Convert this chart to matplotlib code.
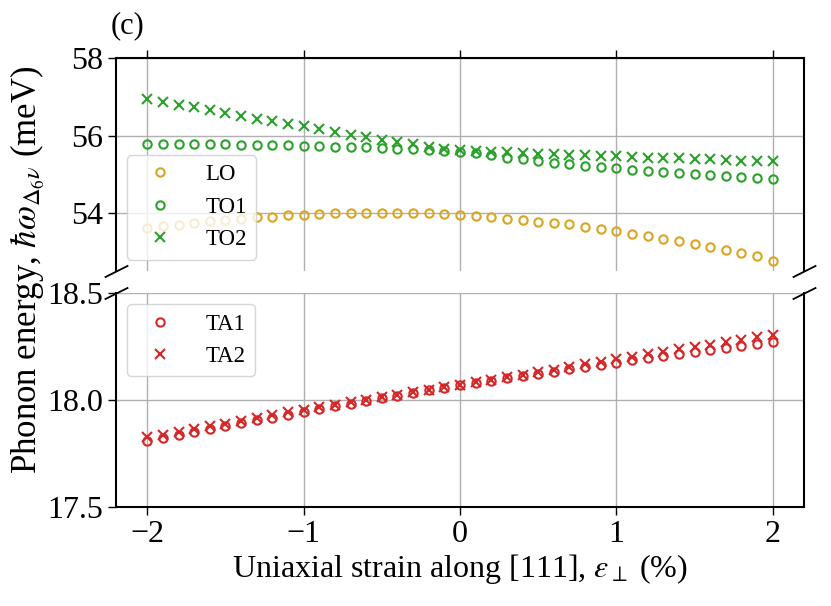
import numpy as np
import matplotlib
matplotlib.use('Agg')
import matplotlib.pyplot as plt

plt.rcParams['font.family'] = ['Liberation Serif', 'DejaVu Serif']
plt.rcParams['mathtext.fontset'] = 'stix'

# Uniaxial strain [%]
strain = [-2.0, -1.9, -1.8, -1.7, -1.6, -1.5, -1.4, -1.3, -1.2, -1.1, -1.0,
          -0.9, -0.8, -0.7, -0.6, -0.5, -0.4, -0.3, -0.2, -0.1, 0.0,
          0.1, 0.2, 0.3, 0.4, 0.5, 0.6, 0.7, 0.8, 0.9, 1.0,
          1.1, 1.2, 1.3, 1.4, 1.5, 1.6, 1.7, 1.8, 1.9, 2.0]

# Optical branches [meV]
LO = [53.62, 53.67, 53.71, 53.76, 53.80, 53.84, 53.86, 53.90, 53.92, 53.95, 53.97,
      53.98, 54.00, 54.01, 54.01, 54.01, 54.01, 54.01, 54.00, 53.98, 53.96,
      53.94, 53.91, 53.87, 53.84, 53.79, 53.76, 53.72, 53.66, 53.61, 53.54,
      53.48, 53.41, 53.35, 53.29, 53.22, 53.14, 53.05, 52.98, 52.90, 52.79]
TO1 = [55.80, 55.80, 55.79, 55.79, 55.78, 55.78, 55.77, 55.76, 55.76, 55.75, 55.74,
       55.73, 55.72, 55.71, 55.70, 55.68, 55.67, 55.65, 55.63, 55.61, 55.59,
       55.56, 55.50, 55.44, 55.39, 55.34, 55.31, 55.26, 55.23, 55.20, 55.16,
       55.13, 55.09, 55.07, 55.04, 55.01, 54.99, 54.97, 54.94, 54.92, 54.88]
TO2 = [56.94, 56.87, 56.80, 56.73, 56.66, 56.58, 56.51, 56.44, 56.37, 56.31, 56.25,
       56.18, 56.10, 56.03, 55.96, 55.89, 55.83, 55.78, 55.72, 55.67, 55.63,
       55.60, 55.58, 55.57, 55.55, 55.54, 55.53, 55.51, 55.50, 55.49, 55.47,
       55.46, 55.44, 55.43, 55.42, 55.40, 55.39, 55.38, 55.36, 55.35, 55.34]

# Acoustic branches [meV]
TA1 = [17.810, 17.824, 17.838, 17.851, 17.865, 17.878, 17.892, 17.905, 17.918, 17.932, 17.945,
       17.958, 17.970, 17.983, 17.995, 18.008, 18.020, 18.033, 18.045, 18.058, 18.070,
       18.081, 18.091, 18.102, 18.112, 18.123, 18.133, 18.144, 18.154, 18.165, 18.175,
       18.185, 18.194, 18.204, 18.213, 18.223, 18.232, 18.242, 18.251, 18.261, 18.270]
TA2 = [17.825, 17.838, 17.851, 17.864, 17.877, 17.890, 17.903, 17.916, 17.929, 17.942, 17.955,
       17.967, 17.978, 17.990, 18.001, 18.013, 18.024, 18.036, 18.047, 18.059, 18.070,
       18.082, 18.094, 18.106, 18.118, 18.130, 18.142, 18.154, 18.166, 18.178, 18.190,
       18.202, 18.213, 18.225, 18.236, 18.248, 18.259, 18.271, 18.282, 18.294, 18.305]

c_lo = '#daa520'
c_to = '#2ca02c'
c_ta = '#d62728'

fig = plt.figure(figsize=(8.31, 6.06), dpi=100)
ax1 = fig.add_axes([0.1396, 0.5528, 0.8279, 0.3515])
ax2 = fig.add_axes([0.1396, 0.1634, 0.8279, 0.3531], sharex=ax1)

mk = dict(linestyle='none', markersize=6, markeredgewidth=1.5)
mx = dict(linestyle='none', markersize=6.5, markeredgewidth=1.5)
ax1.plot(strain, LO, 'o', color=c_lo, mfc='none', label='LO', **mk)
ax1.plot(strain, TO1, 'o', color=c_to, mfc='none', label='TO1', **mk)
ax1.plot(strain, TO2, 'x', color=c_to, label='TO2', **mx)

ax2.plot(strain, TA1, 'o', color=c_ta, mfc='none', label='TA1', **mk)
ax2.plot(strain, TA2, 'x', color=c_ta, label='TA2', **mx)

ax1.set_xlim(-2.2, 2.2)
ax1.set_ylim(52.52, 58)
ax1.set_yticks([54, 56, 58])
ax2.set_ylim(17.5, 18.5)
ax2.set_yticks([17.5, 18.0, 18.5])
ax2.set_xticks([-2, -1, 0, 1, 2])

# broken axis styling
ax1.spines['bottom'].set_visible(False)
ax2.spines['top'].set_visible(False)
ax1.xaxis.tick_top()
ax1.tick_params(labeltop=False)
ax2.xaxis.tick_bottom()

for ax in (ax1, ax2):
    ax.grid(True, color='#b0b0b0', linewidth=1.0)
    ax.tick_params(labelsize=23, length=6, width=1.0)
    for s in ax.spines.values():
        s.set_linewidth(1.5)

d = .5
kw = dict(marker=[(-1, -d), (1, d)], markersize=17, linestyle='none',
          color='k', mec='k', mew=1.3, clip_on=False)
ax1.plot([0, 1], [0, 0], transform=ax1.transAxes, **kw)
ax2.plot([0, 1], [1, 1], transform=ax2.transAxes, **kw)

ax1.legend(loc='lower left', fontsize=16.5, handletextpad=1.0)
ax2.legend(loc='upper left', fontsize=16.5, handletextpad=1.0)

ax2.set_xlabel(r'Uniaxial strain along [111], $\varepsilon_\perp$ (%)', fontsize=23,
               labelpad=2)
fig.text(0.034, 0.555, r'Phonon energy, $\hbar\omega_{\Delta_6\nu}$ (meV)',
         rotation=90, va='center', ha='center', fontsize=25)
fig.text(0.133, 0.945, '(c)', fontsize=22)

plt.savefig('out.png', dpi=100)
